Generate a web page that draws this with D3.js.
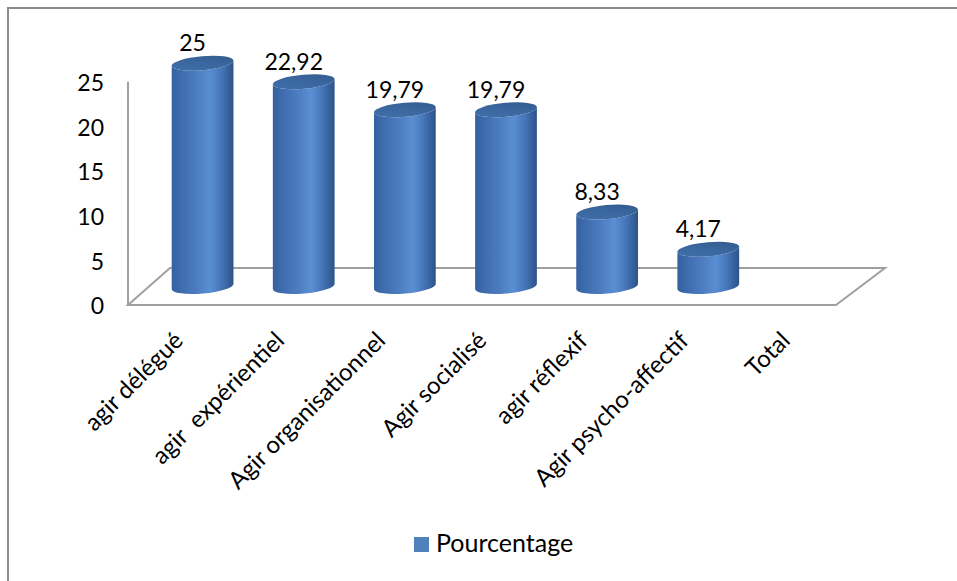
<!DOCTYPE html>
<html>
<head>
<meta charset="utf-8">
<script src="https://cdn.jsdelivr.net/npm/d3@7"></script>
<style>
  html, body { margin: 0; padding: 0; background: #fff; }
  svg { display: block; }
  text { font-family: Lato, "Open Sans", sans-serif; fill: #000; }
</style>
</head>
<body>
<svg id="chart" width="957" height="581"></svg>
<script>
// ---- data ----
const categories = ["agir délégué", "agir  expérientiel", "Agir organisationnel", "Agir socialisé", "agir réflexif", "Agir psycho-affectif", "Total"];
const values = [25, 22.92, 19.79, 19.79, 8.33, 4.17, null];
const valueLabels = ["25", "22,92", "19,79", "19,79", "8,33", "4,17", ""];
const yTicks = [0, 5, 10, 15, 20, 25];
const seriesName = "Pourcentage";

// ---- layout ----
const W = 957, H = 581;
const svg = d3.select("#chart");
const frontY = 305, depthDX = 44, depthDY = -37;
const x = d3.scaleBand().domain(categories).range([128, 836]).paddingInner(0).paddingOuter(0);
const y = d3.scaleLinear().domain([0, 25]).range([frontY, 81.7]);
const midDX = 24, midDY = -18.5;

// defs
const defs = svg.append("defs");
const bodyGrad = defs.append("linearGradient").attr("id", "body").attr("x1", 0).attr("x2", 1).attr("y1", 0).attr("y2", 0);
[[0, "#3461a0"], [0.2, "#416fb1"], [0.5, "#5284c8"], [0.62, "#5a8ed3"], [0.8, "#4676b9"], [1, "#2d5288"]]
  .forEach(([o, c]) => bodyGrad.append("stop").attr("offset", o).attr("stop-color", c));
const topGrad = defs.append("linearGradient").attr("id", "top").attr("x1", 0).attr("x2", 1).attr("y1", 1).attr("y2", 0);
[[0, "#4170ab"], [0.6, "#39659c"], [1, "#325788"]]
  .forEach(([o, c]) => topGrad.append("stop").attr("offset", o).attr("stop-color", c));

// chart border
svg.append("path").attr("d", `M8,${H} L8,8 L${W},8`).attr("fill", "none").attr("stroke", "#8c8c8c").attr("stroke-width", 2);

// floor and wall lines
const x0 = x.range()[0], x1 = x.range()[1];
const lineColor = "#a0a0a0";
svg.append("path")
  .attr("d", `M${x0},${frontY} L${x1},${frontY} L${x1 + depthDX + 5},${frontY + depthDY} L${x0 + depthDX - 2},${frontY + depthDY} Z`)
  .attr("fill", "none").attr("stroke", lineColor).attr("stroke-width", 2);
svg.append("line").attr("x1", x0).attr("x2", x0).attr("y1", y(25)).attr("y2", frontY)
  .attr("stroke", lineColor).attr("stroke-width", 2);

// y tick labels
svg.append("g").selectAll("text").data(yTicks).join("text")
  .attr("x", 104).attr("y", d => y(d) + 1).attr("dy", "0.36em")
  .attr("text-anchor", "end").style("font-size", "23px").text(d => d);

// cylinders
const rx = 31, ry = 7, rotDeg = -5, th = rotDeg * Math.PI / 180;
const ct = Math.cos(th), st = Math.sin(th);
const bars = categories.map((c, i) => ({ c, v: values[i], label: valueLabels[i] })).filter(d => d.v != null);
const g = svg.append("g");
bars.forEach(d => {
  const cx = x(d.c) + x.bandwidth() / 2 + midDX;
  const yb = y(0) + midDY, yt = y(d.v) + midDY;
  const L = (yy) => [cx - rx * ct, yy - rx * st];
  const R = (yy) => [cx + rx * ct, yy + rx * st];
  const p = `M${L(yt)} L${L(yb)} A${rx},${ry} ${rotDeg} 0 0 ${R(yb)} L${R(yt)} A${rx},${ry} ${rotDeg} 0 1 ${L(yt)} Z`;
  g.append("path").attr("d", p).attr("fill", "url(#body)");
  g.append("ellipse").attr("cx", cx).attr("cy", yt).attr("rx", rx).attr("ry", ry)
    .attr("transform", `rotate(${rotDeg},${cx},${yt})`).attr("fill", "url(#top)");
  svg.append("text").attr("x", cx - 10).attr("y", yt - 12).attr("text-anchor", "middle")
    .style("font-size", "23px").text(d.label);
});

// category labels
svg.append("g").selectAll("text").data(categories).join("text")
  .attr("transform", d => `translate(${x(d) + x.bandwidth() / 2 + 6},${342}) rotate(-45)`)
  .attr("text-anchor", "end").style("font-size", "24px").style("white-space", "pre")
  .attr("xml:space", "preserve").text(d => d);

// legend
const lg = svg.append("g");
lg.append("rect").attr("x", 414).attr("y", 537).attr("width", 15).attr("height", 15).attr("fill", "#4f81bd");
lg.append("text").attr("x", 436).attr("y", 552).style("font-size", "25px").text(seriesName);
</script>
</body>
</html>
